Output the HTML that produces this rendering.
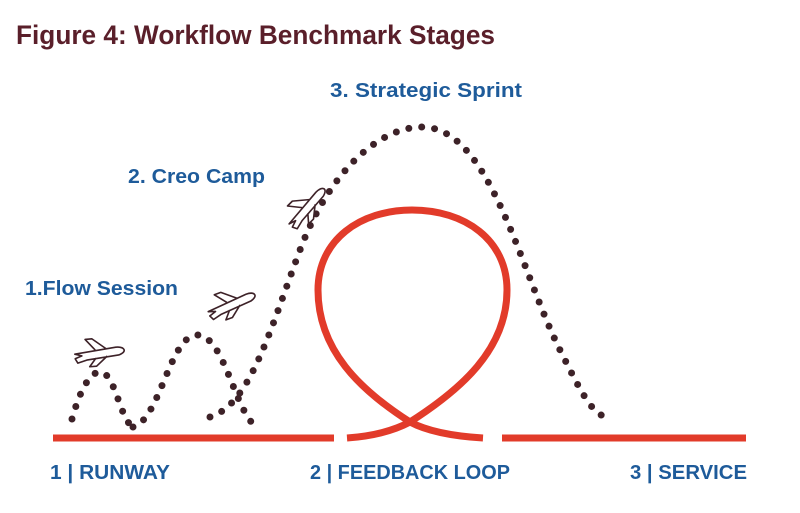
<!DOCTYPE html>
<html><head><meta charset="utf-8"><style>html,body{margin:0;padding:0;background:#fff}svg{display:block}</style></head>
<body>
<svg width="800" height="513" viewBox="0 0 800 513" xmlns="http://www.w3.org/2000/svg" font-family="Liberation Sans, sans-serif">
<text x="16" y="44" font-size="27" font-weight="bold" fill="#5a1f2a" textLength="479" lengthAdjust="spacingAndGlyphs">Figure 4: Workflow Benchmark Stages</text>
<g fill="#1e5b9a" font-size="20" font-weight="bold">
<text x="330" y="97" textLength="192" lengthAdjust="spacingAndGlyphs">3. Strategic Sprint</text>
<text x="128" y="183" textLength="137" lengthAdjust="spacingAndGlyphs">2. Creo Camp</text>
<text x="25" y="295" textLength="153" lengthAdjust="spacingAndGlyphs">1.Flow Session</text>
<text x="50" y="479" textLength="120" lengthAdjust="spacingAndGlyphs">1 | RUNWAY</text>
<text x="310" y="479" textLength="200" lengthAdjust="spacingAndGlyphs">2 | FEEDBACK LOOP</text>
<text x="630" y="479" textLength="117" lengthAdjust="spacingAndGlyphs">3 | SERVICE</text>
</g>
<g stroke="#e23b2a" stroke-width="7" fill="none">
<line x1="53" y1="438" x2="334" y2="438"/>
<line x1="502" y1="438" x2="746" y2="438"/>
<path d="M347,438 C375,436 395,430 410,422 C360,390 318,350 318,290 C318,240 360,210 412,210 C465,210 507,240 507,290 C507,350 460,390 410,422 C425,430 450,436 483,438"/>
</g>
<g stroke="#3d2228" stroke-width="7" stroke-linecap="round" fill="none" stroke-dasharray="0 13">
<path d="M72,419 C80,390 90,372 100,372 C115,372 120,420 133,427"/>
<path d="M133,427 C160,420 170,335 197,335 C225,335 235,415 258,428"/>
<path d="M210,417 C250,405 270,330 300,250 C330,170 380,127 422,127 C490,127 520,270 560,350 C580,390 590,410 603,416"/>
</g>
<g fill="#fff" stroke="#3d2228" stroke-width="1.4" stroke-linejoin="round">
<g transform="translate(100,352) rotate(-5) scale(1.15)"><path d="M-22,0 L14,-3 C22,-3 24,2 16,4 L-12,6 L-20,8 L-22,4 L-16,2 Z M-4,-2 L-12,-12 L-6,-12 L6,-2 M-4,5 L-10,12 L-4,12 L6,4"/></g>
<g transform="translate(232,303) rotate(-20) scale(1.15)"><path d="M-22,0 L14,-3 C22,-3 24,2 16,4 L-12,6 L-20,8 L-22,4 L-16,2 Z M-4,-2 L-12,-12 L-6,-12 L6,-2 M-4,5 L-10,12 L-4,12 L6,4"/></g>
<g transform="translate(307,206) rotate(-45) scale(1.15)"><path d="M-22,0 L14,-3 C22,-3 24,2 16,4 L-12,6 L-20,8 L-22,4 L-16,2 Z M-4,-2 L-12,-12 L-6,-12 L6,-2 M-4,5 L-10,12 L-4,12 L6,4"/></g>
</g>
</svg>
</body></html>
